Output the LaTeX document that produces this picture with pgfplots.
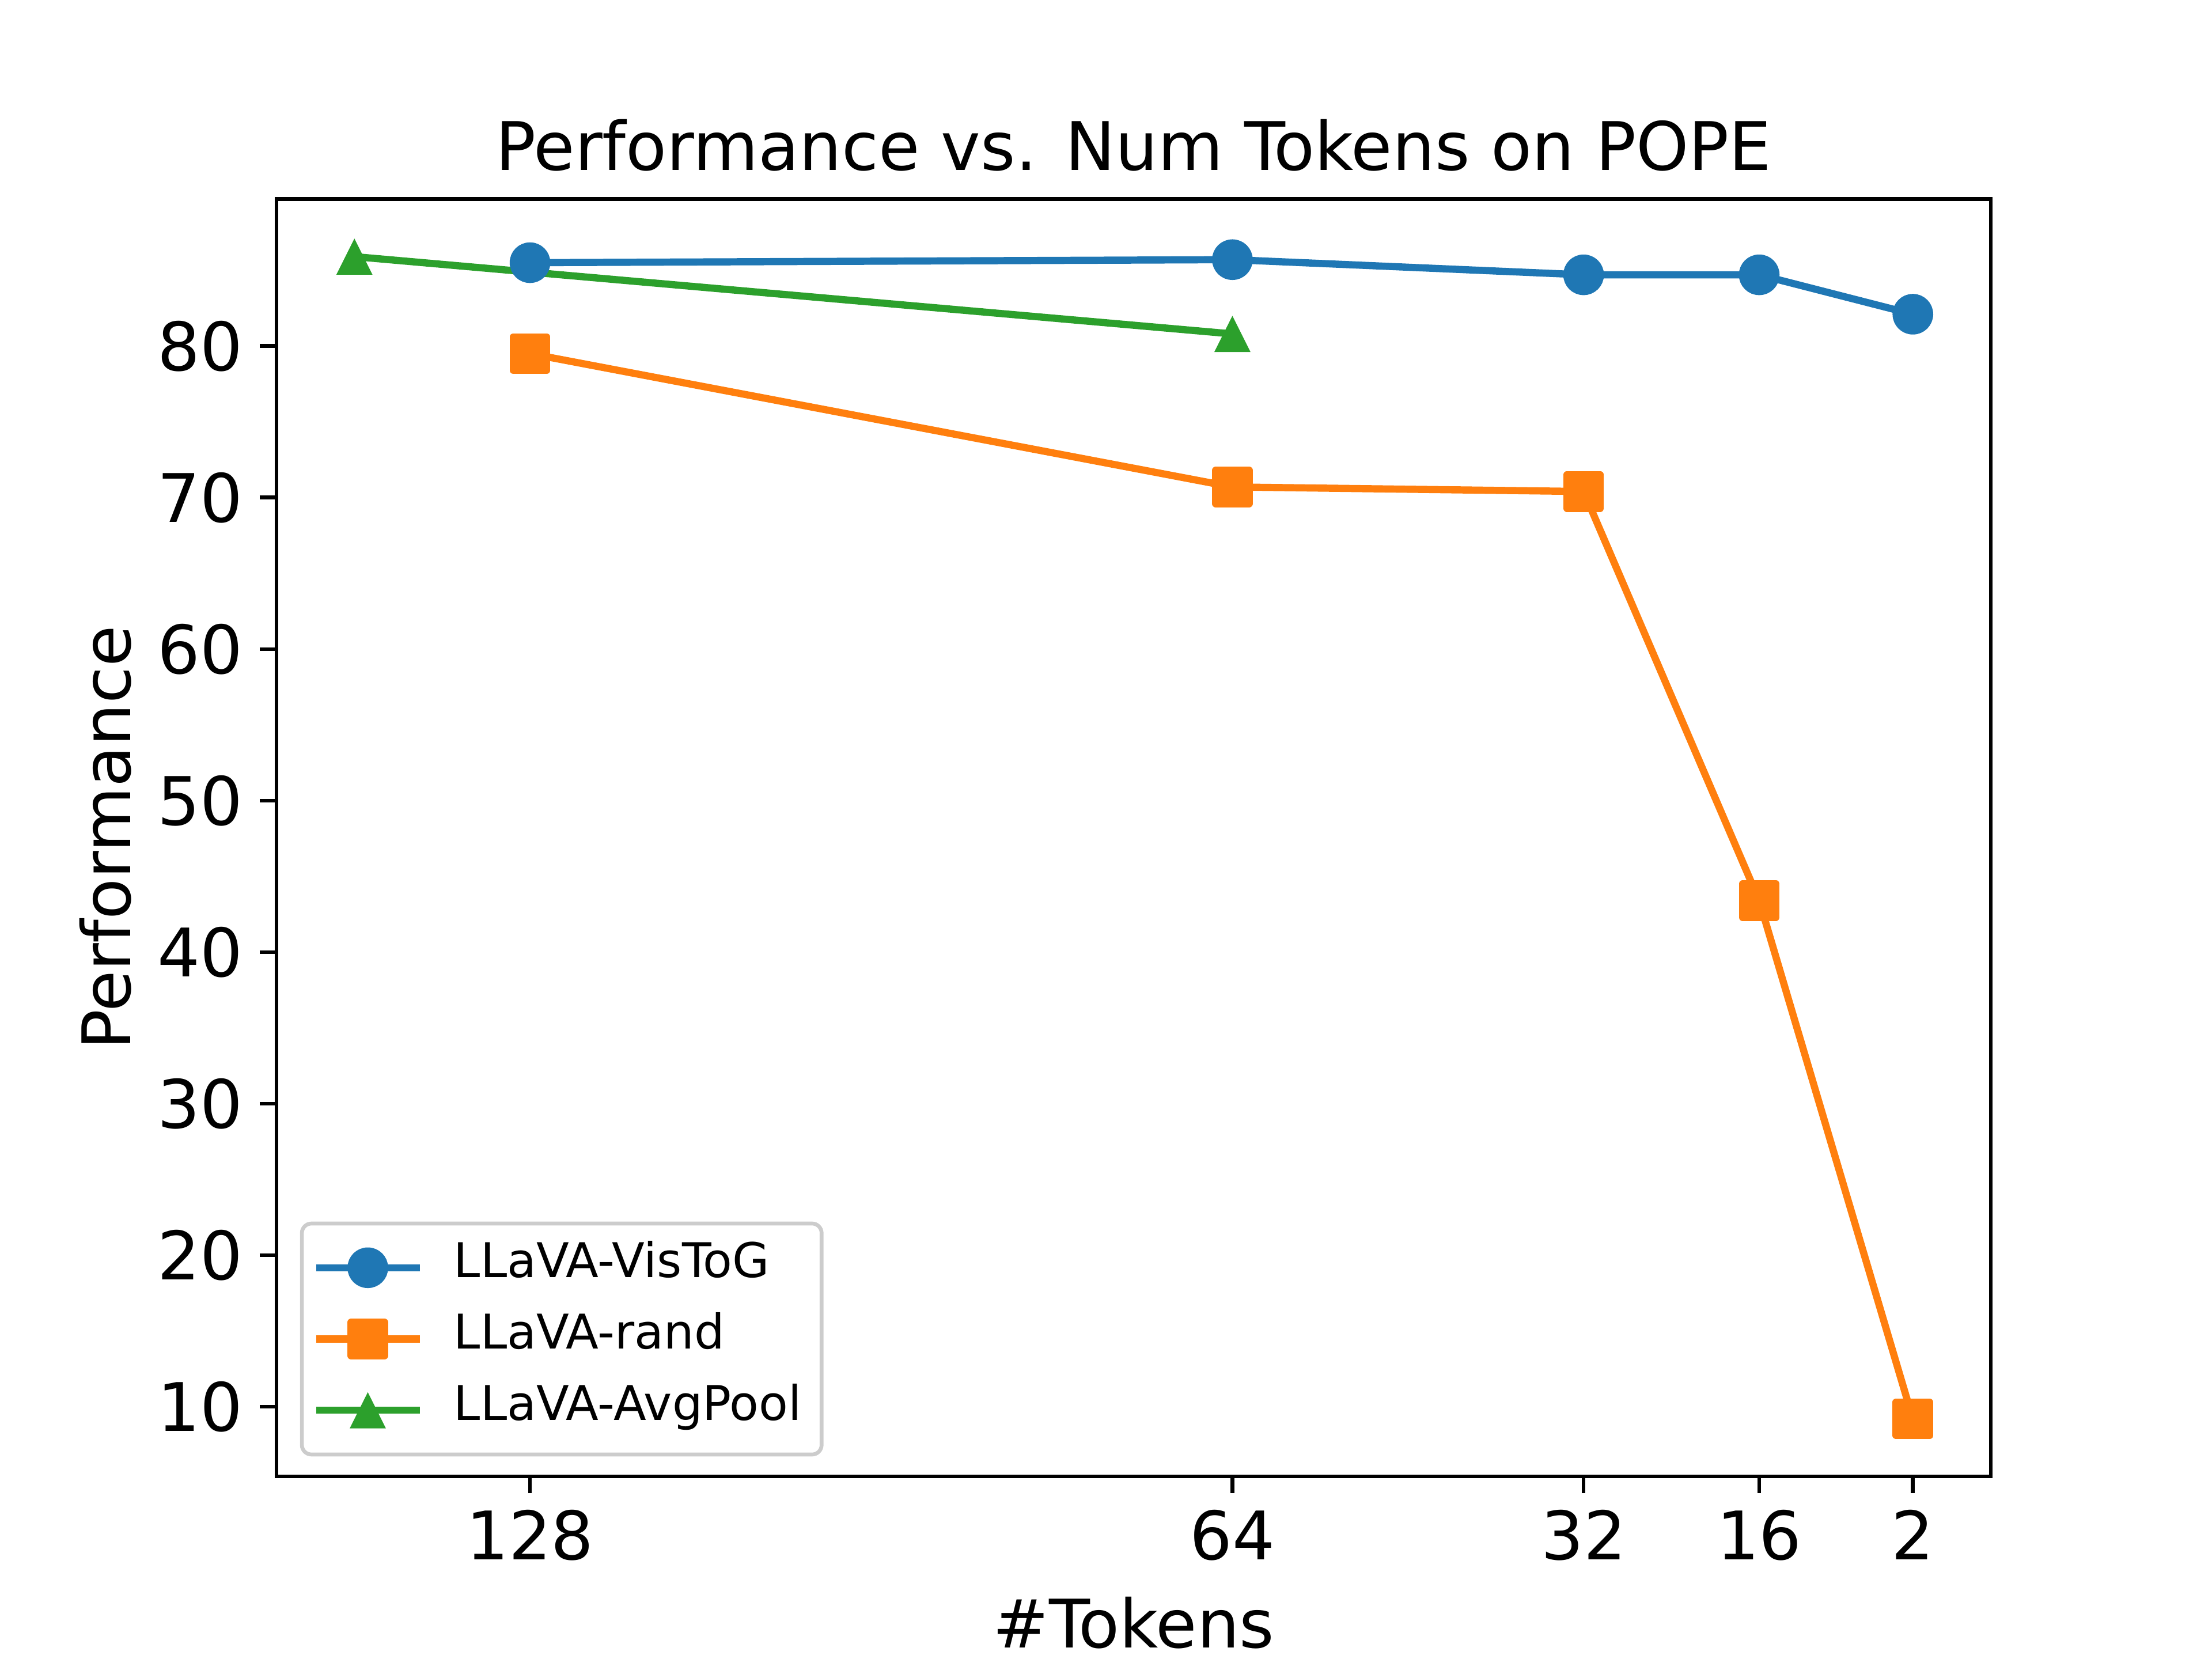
\documentclass[border=0pt]{standalone}
\usepackage{fontspec}
\setmainfont{DejaVu Sans}
\usepackage{pgfplots}
\pgfplotsset{compat=1.18}

\definecolor{mplblue}{HTML}{1F77B4}
\definecolor{mplorange}{HTML}{FF7F0E}
\definecolor{mplgreen}{HTML}{2CA02C}
\definecolor{legframe}{HTML}{CCCCCC}

% matplotlib-like triangle marker
\pgfdeclareplotmark{mpltri}{%
  \pgfpathmoveto{\pgfqpoint{0pt}{3.78pt}}%
  \pgfpathlineto{\pgfqpoint{-3.78pt}{-3.78pt}}%
  \pgfpathlineto{\pgfqpoint{3.78pt}{-3.78pt}}%
  \pgfpathclose
  \pgfusepathqfill}

\newcommand{\bigfont}{\fontsize{14}{16.8}\selectfont}

\begin{document}
\begin{tikzpicture}
\begin{axis}[
    scale only axis,
    width=4.96in, height=3.696in,
    xmin=-5.1, xmax=151.1, x dir=reverse,
    ymin=5.4, ymax=89.7,
    xtick={128,64,32,16,2},
    ytick={10,20,...,80},
    xtick pos=bottom, ytick pos=left,
    tick align=outside,
    major tick length=3.5pt,
    tick style={black, line width=0.8pt},
    axis line style={line width=0.8pt},
    /pgf/number format/assume math mode=true,
    ticklabel style={font=\bigfont},
    every axis title shift=0pt,
    title={Performance vs. Num Tokens on POPE},
    title style={font=\bigfont, at={(axis description cs:0.5,1.0225)}, anchor=base},
    xlabel={\#Tokens},
    xlabel style={font=\bigfont, at={(axis description cs:0.5,-0.134)}, anchor=base},
    ylabel={Performance},
    ylabel style={font=\bigfont, at={(axis description cs:-0.085,0.5)}, anchor=base},
    legend cell align=left,
    legend style={at={(0,0)}, anchor=south west, xshift=0.068in, yshift=0.058in,
        draw=legframe, line width=0.8pt, rounded corners=2pt,
        fill=white, fill opacity=0.8, text opacity=1,
        font=\fontsize{10}{12}\selectfont,
        inner xsep=2.2pt, inner ysep=1.8pt, row sep=0pt, column sep=4.4pt,
        nodes={inner ysep=2.5pt, inner xsep=2pt, text height=7.0pt, text depth=2.9pt}},
    legend image code/.code={
        \draw[sharp corners, opacity=1, mark repeat=2, mark phase=2]
            plot coordinates {(0in,0) (0.15in,0) (0.3in,0)};},
]

\addplot[mplblue, line width=1.5pt, line join=round, mark=*, mark size=3.5pt]
    coordinates {(128,85.5) (64,85.7) (32,84.7) (16,84.7) (2,82.1)};
\addlegendentry{LLaVA-VisToG}

\addplot[mplorange, line width=1.5pt, line join=round, mark=square*, mark size=3.5pt]
    coordinates {(128,79.5) (64,70.7) (32,70.4) (16,43.4) (2,9.2)};
\addlegendentry{LLaVA-rand}

\addplot[mplgreen, line width=1.5pt, line join=round, mark=mpltri]
    coordinates {(144,85.9) (64,80.8)};
\addlegendentry{LLaVA-AvgPool}

\end{axis}
\pgfresetboundingbox
\path[use as bounding box] ([shift={(-0.8in,-0.528in)}]current axis.south west)
    rectangle ([shift={(0.64in,0.576in)}]current axis.north east);
\end{tikzpicture}
\end{document}
